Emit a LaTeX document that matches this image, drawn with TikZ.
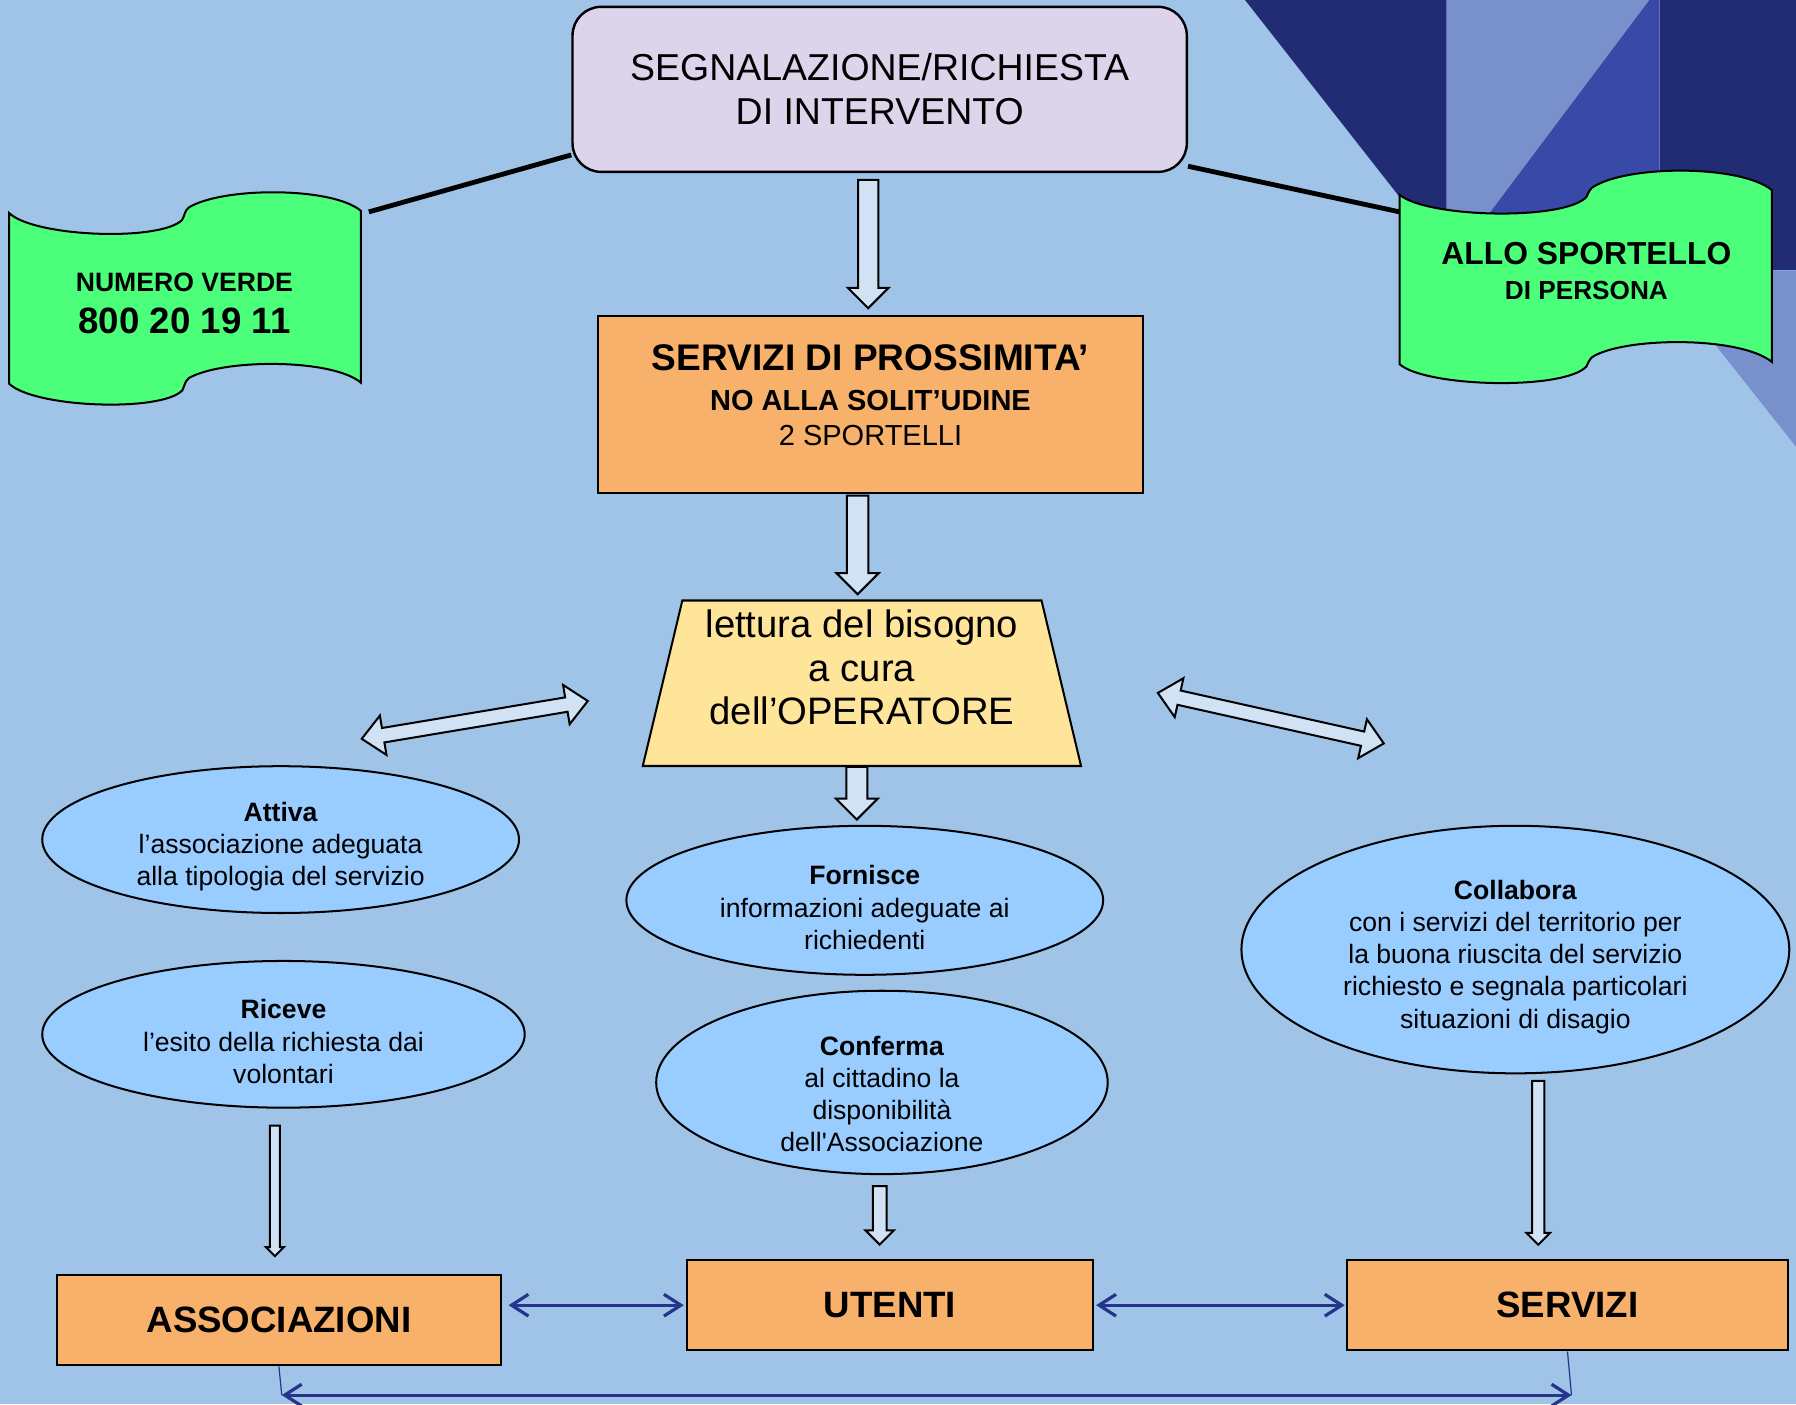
\documentclass[tikz,border=0pt]{standalone}
\usepackage{fontspec}
\setmainfont{Liberation Sans}
\usetikzlibrary{shapes.geometric}
\usetikzlibrary{shapes.arrows}
\usetikzlibrary{arrows.meta}
\usetikzlibrary{positioning}

\definecolor{bgblue}{RGB}{159,196,232}
\definecolor{navy}{RGB}{33,44,116}
\definecolor{greyblue}{RGB}{120,144,204}
\definecolor{midblue}{RGB}{57,73,168}
\definecolor{lavender}{RGB}{220,212,235}
\definecolor{boxorange}{RGB}{247,177,107}
\definecolor{paleyellow}{RGB}{255,229,153}
\definecolor{ellblue}{RGB}{153,204,255}
\definecolor{scrollgreen}{RGB}{76,255,122}
\definecolor{arrowfill}{RGB}{208,226,243}
\definecolor{linknavy}{RGB}{40,52,140}

\newcommand{\fs}[2]{\fontsize{#1}{#2}\selectfont}
\newcommand{\toplift}[1]{\rule{0pt}{#1}}

\begin{document}
\begin{tikzpicture}[x=0.01cm, y=-0.01cm]
		\tikzset{box/.style = {shape=rectangle, draw, line width=0.5pt, 
				fill=boxorange, inner sep=0pt}}
		\tikzset{bubble/.style = {shape=ellipse, draw, line width=0.5pt, 
				fill=ellblue, inner sep=0pt, align=center, font=\fs{6.6}{8}}}
		\tikzset{downarr/.style n args = {3}{single arrow, draw, 
				fill=arrowfill, line width=0.5pt, inner xsep=0pt, inner ysep=#1, 
				single arrow head extend=#2, single arrow tip angle=90, 
				minimum height=#3, rotate=-90}}
		\tikzset{dblarr/.style = {double arrow, draw, fill=arrowfill, 
				line width=0.5pt, inner xsep=0pt, inner ysep=0.055cm, 
				double arrow head extend=0.11cm, double arrow tip angle=85, 
				minimum height=2cm}}
		\tikzset{link/.style = {{Straight Barb[length=4.2pt,width=5.4pt]}-{Straight Barb[length=4.2pt,width=5.4pt]}, 
				draw=linknavy, line width=0.8pt}}
		\tikzset{scroll/.style = {draw, line width=0.5pt, fill=scrollgreen}}
		
		% background
		\useasboundingbox (0,0) rectangle (1568,1226);
		\fill[bgblue] (0,0) rectangle (1568,1226);
		\fill[navy] (1087,0) -- (1263,0) -- (1263,260) -- (1291,260) -- cycle;
		\fill[greyblue] (1263,0) -- (1440,0) -- (1263,236) -- cycle;
		\fill[midblue] (1440,0) -- (1449,0) -- (1449,260) -- (1263,260) -- (1263,236) -- cycle;
		\fill[navy] (1449,0) rectangle (1568,236);
		\fill[greyblue] (1446,236) -- (1568,236) -- (1568,390) -- cycle;
		
		% scrolls
		\draw[scroll] (8,186) .. controls (30,207) and (140,211) .. (159,192) 
			.. controls (161,189) and (161,184) .. (165,181) 
			.. controls (195,163) and (290,163) .. (315,184) -- (315,334) 
			.. controls (290,313) and (195,313) .. (165,330) 
			.. controls (161,333) and (161,338) .. (159,341) 
			.. controls (140,360) and (30,356) .. (8,335) -- cycle;
		\draw[scroll] (1222,170) .. controls (1245,190) and (1365,193) .. (1385,172) 
			.. controls (1387,168) and (1388,164) .. (1393,162) 
			.. controls (1425,144) and (1520,144) .. (1547,166) -- (1547,316) 
			.. controls (1520,294) and (1425,294) .. (1393,310) 
			.. controls (1388,312) and (1387,316) .. (1385,320) 
			.. controls (1365,341) and (1245,338) .. (1222,318) -- cycle;
		\node[align=center, font=\fs{6.6}{8}\bfseries] (numv) at (161,265) 
			{NUMERO VERDE\\[2.3pt]{\fs{9.1}{10}800 20 19 11}};
		\node[align=center, font=\fs{6.5}{8.8}\bfseries] (sport) at (1385,236.5) 
			{{\fs{7.9}{9}ALLO SPORTELLO}\\DI PERSONA};
		\coordinate (numvcorner) at (322,185);
		\coordinate (sportcorner) at (1222,185);
		
		% vertices
		\node[draw, line width=0.6pt, fill=lavender, rounded corners=0.25cm, 
			minimum width=5.36cm, minimum height=1.44cm, align=center, 
			font=\fs{9.3}{10.8}] (req) at (768,78) 
			{SEGNALAZIONE/RICHIESTA\\DI INTERVENTO};
		
		\node[box, minimum width=4.76cm, minimum height=1.54cm] (prox) at (760,353) {};
		\node[align=center, font=\fs{7.2}{8.5}] (proxtext) at (760,345) 
			{{\fs{9.2}{10}\bfseries SERVIZI DI PROSSIMITA’}\\[1.5pt]{\bfseries NO ALLA SOLIT’UDINE}\\2 SPORTELLI};
		
		\node[minimum width=3.81cm, minimum height=1.43cm, inner sep=0pt] (oper) at (752.5,596.5) {};
		\draw[line width=0.5pt, fill=paleyellow] (oper.south west) -- (oper.south east) 
			-- ([xshift=-0.345cm]oper.north east) -- ([xshift=0.345cm]oper.north west) -- cycle;
		\node[align=center, font=\fs{9.5}{10.8}] (opertext) at (752.5,583) 
			{lettura del bisogno\\a cura\\dell’OPERATORE};
		
		\node[bubble, minimum width=4.16cm, minimum height=1.28cm] (attiva) at (245,733) 
			{\textbf{Attiva}\toplift{8.4pt}\\l’associazione adeguata\\alla tipologia del servizio};
		\node[bubble, minimum width=4.21cm, minimum height=1.28cm] (riceve) at (247.5,903) 
			{\textbf{Riceve}\toplift{8.4pt}\\l’esito della richiesta dai\\volontari};
		\node[bubble, minimum width=4.16cm, minimum height=1.30cm] (forn) at (755,786) 
			{\textbf{Fornisce}\toplift{8.4pt}\\informazioni adeguate ai\\richiedenti};
		\node[bubble, inner ysep=-0.15cm, minimum width=3.94cm, minimum height=1.60cm] (conf) at (770,945) 
			{\textbf{Conferma}\toplift{10.5pt}\\al cittadino la\\disponibilità\\dell\textquotesingle Associazione};
		\node[bubble, minimum width=4.78cm, minimum height=2.16cm] (collab) at (1323,829) 
			{\textbf{Collabora}\toplift{8.4pt}\\con i servizi del territorio per\\la buona riuscita del servizio\\richiesto e segnala particolari\\situazioni di disagio};
		
		\node[box, minimum width=3.87cm, minimum height=0.79cm, font=\fs{9.1}{11}\bfseries] 
			(assoc) at (243.5,1152.5) {ASSOCIAZIONI};
		\node[box, minimum width=3.54cm, minimum height=0.79cm, font=\fs{9.1}{11}\bfseries] 
			(uten) at (777,1139.5) {UTENTI};
		\node[box, minimum width=3.85cm, minimum height=0.79cm, font=\fs{9.1}{11}\bfseries] 
			(serv) at (1368.5,1139.5) {SERVIZI};
		
		\node[dblarr, rotate=9.5] (dblleft) at (414.5,628.5) {};
		\node[dblarr, rotate=-12.6, minimum height=2.02cm] (dblright) at (1109.5,627) {};
		
		%edges
		\draw[line width=1.2pt] (numvcorner) -- (req.192.8);
		\draw[line width=1.2pt] (req.-14.5) -- (sportcorner);
		
		\path (req.south) -- node[xshift=-0.06cm, yshift=0.045cm, downarr={0.08cm}{0.088cm}{1.12cm}] {} (prox.north);
		\path (prox.south) -- node[xshift=-0.075cm, yshift=0.065cm, downarr={0.085cm}{0.09cm}{0.86cm}] {} (oper.north);
		\path (oper.south) -- node[xshift=-0.057cm, yshift=0.065cm, downarr={0.083cm}{0.091cm}{0.46cm}] {} (forn.north);
		\path (conf.south) -- node[xshift=-0.055cm, yshift=0.045cm, downarr={0.051cm}{0.063cm}{0.51cm}] {} (uten.north);
		\path (riceve.south) -- node[xshift=-0.055cm, yshift=0.025cm, downarr={0.034cm}{0.036cm}{1.14cm}] {} (assoc.north);
		\path (collab.south) -- node[xshift=-0.028cm, yshift=0.06cm, downarr={0.044cm}{0.05cm}{1.43cm}] {} (serv.north);
		
		\draw[link, shorten <=0.06cm, shorten >=0.02cm] (assoc.east |- uten.west) -- (uten.west);
		\draw[link, shorten <=0.02cm, shorten >=0.01cm] (uten.east) -- (serv.west);
		
		\coordinate (abot) at (246,1218);
		\coordinate (sbot) at (1372,1218);
		\draw[linknavy, line width=0.3pt] (assoc.south) -- (abot);
		\draw[linknavy, line width=0.3pt] (serv.south) -- (sbot);
		\draw[link] (abot) -- (sbot);
\end{tikzpicture}
\end{document}
